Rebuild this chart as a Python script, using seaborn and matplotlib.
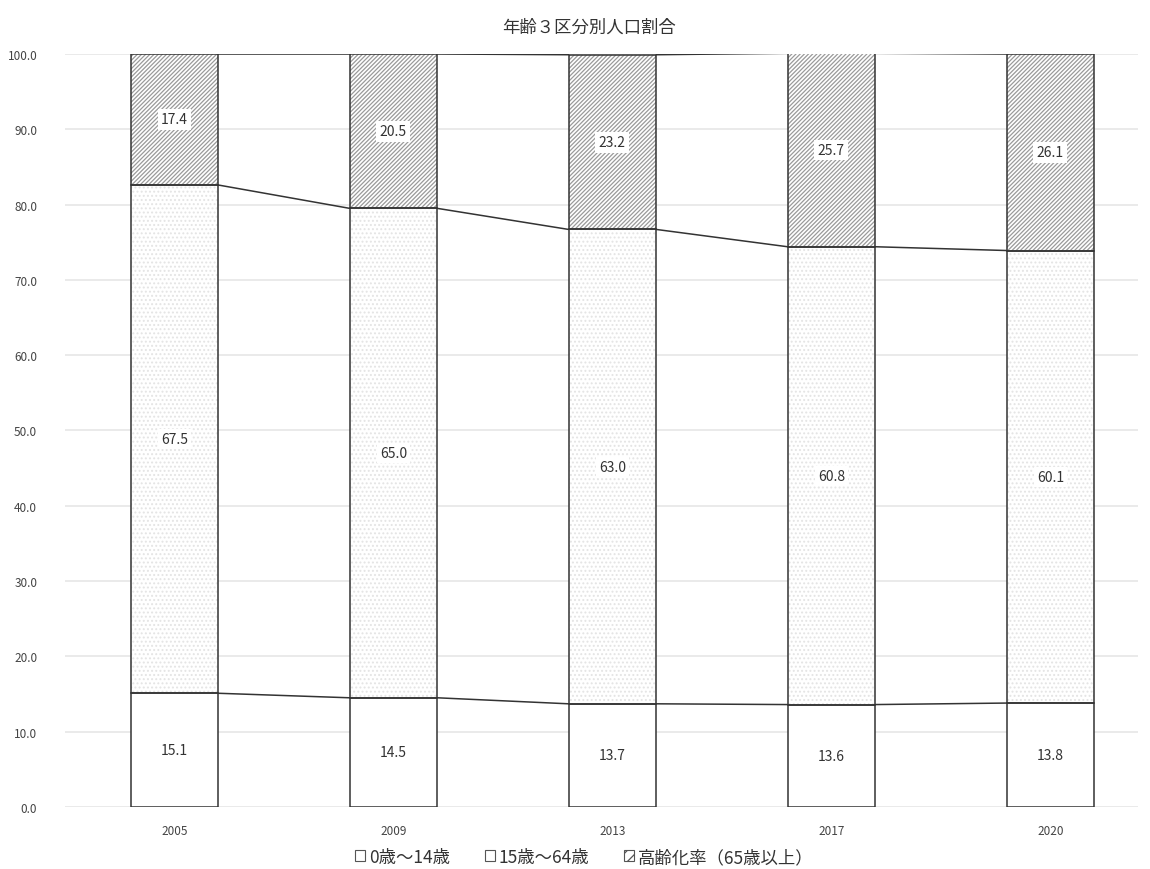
import matplotlib
matplotlib.use("Agg")
import matplotlib.pyplot as plt
import seaborn as sns
import pandas as pd
import numpy as np
from matplotlib.patches import Patch

years = ["2005", "2009", "2013", "2017", "2020"]
age_0_14 = [15.1, 14.5, 13.7, 13.6, 13.8]
age_15_64 = [67.5, 65.0, 63.0, 60.8, 60.1]
age_65_up = [17.4, 20.5, 23.2, 25.7, 26.1]
series_names = ["0歳～14歳", "15歳～64歳", "高齢化率（65歳以上）"]
title = "年齢３区分別人口割合"

sns.set_theme(style="white")
plt.rcParams['font.family'] = ['Noto Sans CJK JP', 'DejaVu Sans']
plt.rcParams['hatch.linewidth'] = 0.9

fig = plt.figure(figsize=(11.5, 8.7), dpi=100)
ax = fig.add_axes([0.0565, 0.0713, 0.933, 0.8655])

df = pd.DataFrame({"year": years, "a": age_0_14, "b": age_15_64, "c": age_65_up})
bottom_b = np.array(age_0_14)
bottom_c = bottom_b + np.array(age_15_64)
top = bottom_c + np.array(age_65_up)

w = 0.4
# fills
sns.barplot(data=df, x="year", y="a", ax=ax, width=w, color="white",
            saturation=1, linewidth=0, zorder=2)
sns.barplot(data=df, x="year", y="b", ax=ax, width=w, bottom=bottom_b,
            color="white", edgecolor="#e4e4e4", hatch="....",
            saturation=1, linewidth=0, zorder=2)
sns.barplot(data=df, x="year", y="c", ax=ax, width=w, bottom=bottom_c,
            color="white", edgecolor="#9a9a9a", hatch="////////",
            saturation=1, linewidth=0, zorder=2)
# outlines
for vals, bot in [(age_0_14, 0), (age_15_64, bottom_b), (age_65_up, bottom_c)]:
    ax.bar(range(len(years)), vals, bottom=bot, width=w, fill=False,
           edgecolor="#333333", linewidth=1.1, zorder=3)

# connector lines
x = np.arange(len(years))
for level in [bottom_b, bottom_c, top]:
    for i in range(len(years) - 1):
        ax.plot([x[i] + w / 2, x[i + 1] - w / 2], [level[i], level[i + 1]],
                color="#333333", lw=1.1, zorder=3)

# labels
for i in range(len(years)):
    ax.text(x[i], age_0_14[i] / 2, f"{age_0_14[i]:.1f}", ha="center", va="center",
            fontsize=10, color="#333333", zorder=4)
    ax.text(x[i], bottom_b[i] + age_15_64[i] / 2, f"{age_15_64[i]:.1f}", ha="center",
            va="center", fontsize=10, color="#333333", zorder=4,
            bbox=dict(facecolor="white", edgecolor="none", pad=2))
    ax.text(x[i], bottom_c[i] + age_65_up[i] / 2, f"{age_65_up[i]:.1f}", ha="center",
            va="center", fontsize=10, color="#333333", zorder=4,
            bbox=dict(facecolor="white", edgecolor="none", pad=2.5))

ax.set_xlim(-0.5, 4.4)
ax.set_ylim(0, 100)
ax.set_yticks(np.arange(0, 101, 10))
ax.set_yticklabels([f"{v:.1f}" for v in np.arange(0, 101, 10)], fontsize=8.5, color="#444444")
ax.tick_params(axis="x", labelsize=8.5, colors="#444444", length=0, pad=12)
ax.tick_params(axis="y", length=0, pad=20)
ax.set_xlabel("")
ax.set_ylabel("")
ax.yaxis.grid(True, color="#e6e6e6", lw=1.2, zorder=0)
ax.set_axisbelow(True)
for s in ax.spines.values():
    s.set_visible(False)

fig.text(0.512, 0.968, title, ha="center", va="center", fontsize=12.5, color="#333333")

handles = [Patch(facecolor="white", edgecolor="#555555", lw=0.8),
           Patch(facecolor="white", edgecolor="#555555", lw=0.8),
           Patch(facecolor="white", edgecolor="#555555", lw=0.8, hatch="///")]
fig.legend(handles, series_names, loc="center", bbox_to_anchor=(0.508, 0.0138),
           ncol=3, frameon=False, fontsize=12.5, handlelength=0.6, handleheight=0.6,
           handletextpad=0.2, columnspacing=2.0, labelcolor="#333333")

fig.savefig("out.png", dpi=100)
